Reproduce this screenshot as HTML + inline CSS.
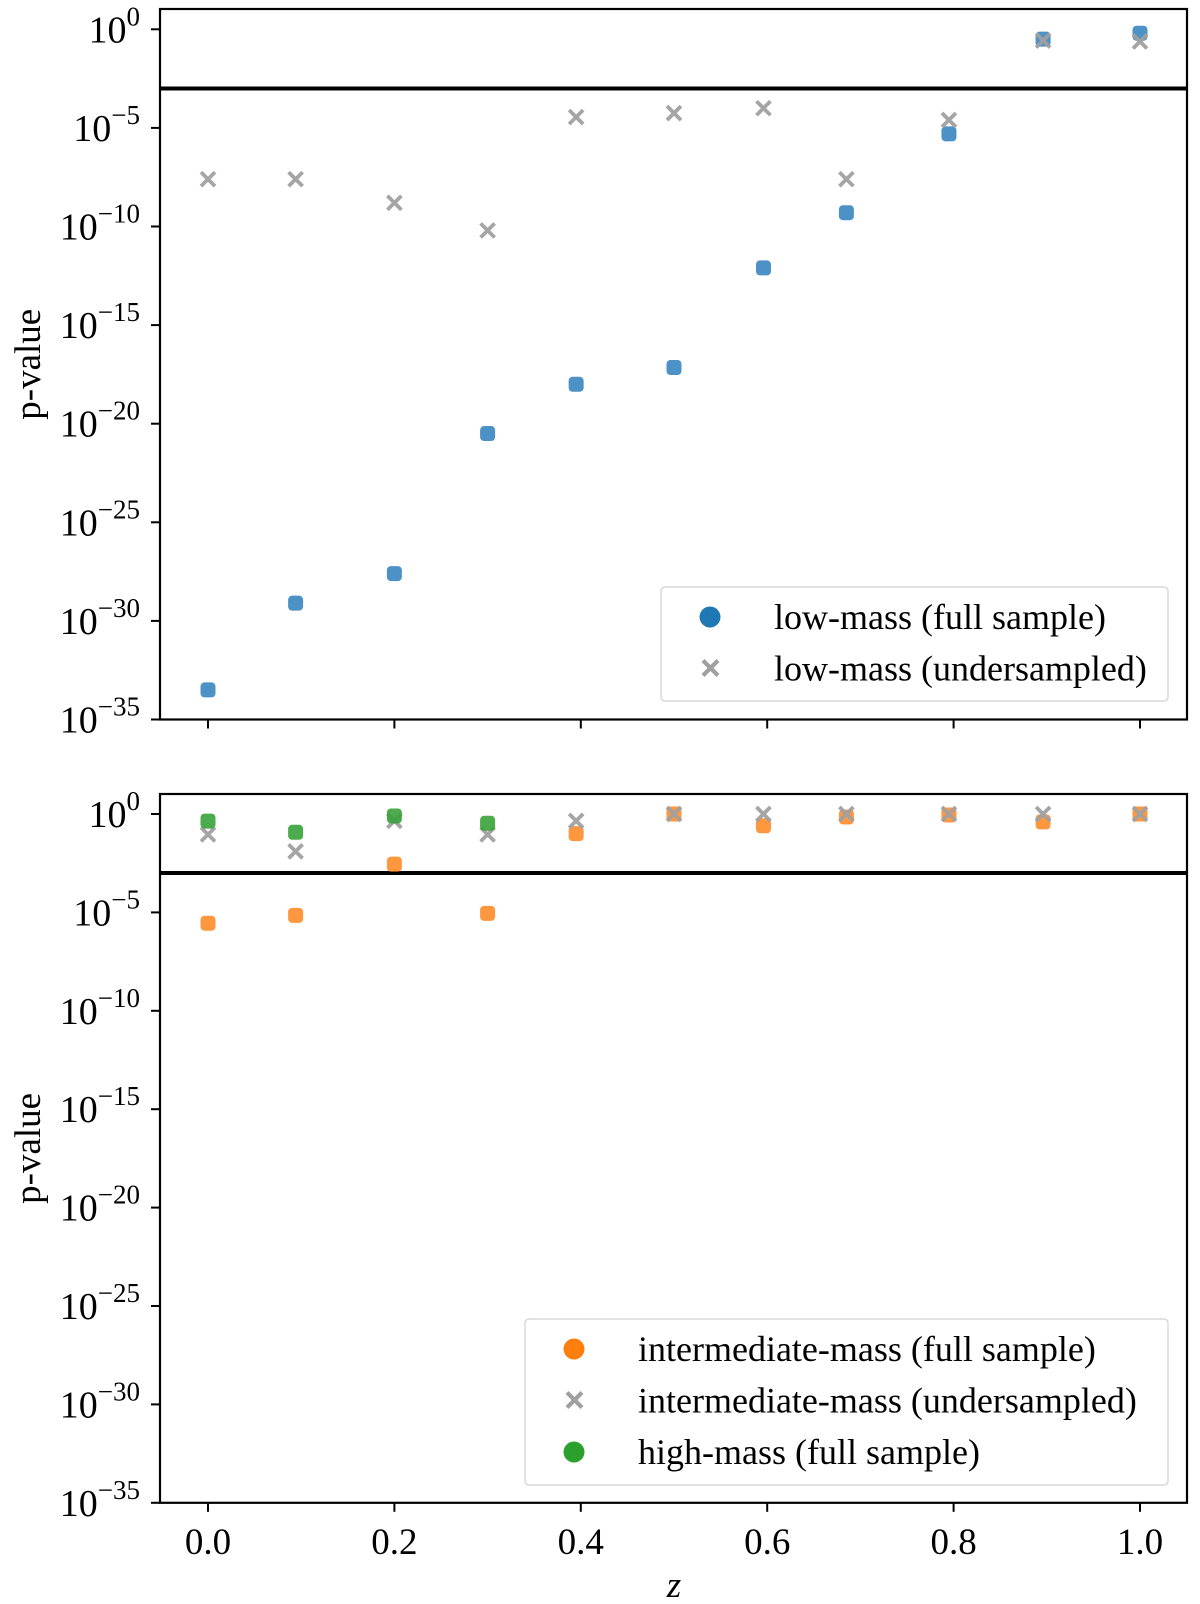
<!DOCTYPE html>
<html><head><meta charset="utf-8"><style>
html,body{margin:0;padding:0;background:#fff;}
svg{display:block;font-family:"Liberation Serif","DejaVu Serif",serif;}
</style></head><body>
<svg id="chart" width="1200" height="1604" viewBox="0 0 1200 1604" xmlns="http://www.w3.org/2000/svg"></svg>
<script>
// ---- data ----
const zValues = [0.0, 0.094, 0.2, 0.3, 0.395, 0.5, 0.596, 0.685, 0.795, 0.896, 1.0];
const lowFullLog = [-33.5, -29.1, -27.6, -20.5, -18.0, -17.15, -12.1, -9.3, -5.3, -0.5, -0.2];
const lowUnderLog = [-7.6, -7.6, -8.8, -10.2, -4.45, -4.25, -4.0, -7.6, -4.6, -0.57, -0.62];
const interFullLog = [-5.55, -5.15, -2.55, -5.05, -1.0, 0, -0.6, -0.15, -0.05, -0.4, 0];
const interUnderLog = [-1.04, -1.9, -0.35, -1.04, -0.35, 0, 0, 0, 0, 0, 0];
const highZ = [0.0, 0.094, 0.2, 0.3];
const highFullLog = [-0.36, -0.93, -0.1, -0.47];
const yTickExps = [0, -5, -10, -15, -20, -25, -30, -35];
const xTicks = [0.0, 0.2, 0.4, 0.6, 0.8, 1.0];
const xTickLabels = ["0.0", "0.2", "0.4", "0.6", "0.8", "1.0"];
const thresholdLog = -3;

const NS = "http://www.w3.org/2000/svg";
const svg = document.getElementById('chart');
function mk(tag, attrs, parent) {
  const e = document.createElementNS(NS, tag);
  for (const k in attrs) e.setAttribute(k, attrs[k]);
  (parent || svg).appendChild(e);
  return e;
}
const L = 160, R = 1187;
const xS = z => 208 + z * 932;
const panels = [
  {top: 9, zero: 29.3, dec: 19.72, name: 'top'},
  {top: 794, zero: 814, dec: 19.68, name: 'bottom'}
];
const colBlue = '#3a86c0', colOrange = '#ff8c2a', colGreen = '#38a33a', colGray = '#a0a0a0';

function square(g, x, y, c, name) {
  const r = mk('rect', {x: x - 7.5, y: y - 7.5, width: 15, height: 15, rx: 4, fill: c, 'fill-opacity': 0.9}, g);
  
  
}
function cross(g, x, y, name) {
  const p = mk('path', {d: `M${x-7},${y-7}L${x+7},${y+7}M${x-7},${y+7}L${x+7},${y-7}`, stroke: colGray, 'stroke-width': 3.8, fill: 'none', 'stroke-opacity': 0.95}, g);
  
  
}

panels.forEach((p, pi) => {
  const yS = v => p.zero - v * p.dec;
  const bottom = yS(-35);
  const g = mk('g', {});
  
  
  yTickExps.forEach(e => {
    const y = yS(e);
    mk('line', {x1: L - 9, x2: L, y1: y, y2: y, stroke: '#000', 'stroke-width': 2}, g);
    const t = mk('text', {x: 140, y: y + 13, 'text-anchor': 'end', 'font-size': 38}, g);
    
    
    const a = mk('tspan', {}, t); a.textContent = '10';
    const b = mk('tspan', {'font-size': 27, dy: -17}, t); b.textContent = (e === 0 ? '0' : '\u2212' + (-e));
  });
  xTicks.forEach((z, i) => {
    const x = xS(z);
    mk('line', {x1: x, x2: x, y1: bottom, y2: bottom + 9, stroke: '#000', 'stroke-width': 2}, g);
    if (pi === 1) {
      const t = mk('text', {x: x, y: 1554, 'text-anchor': 'middle', 'font-size': 37}, g);
      t.textContent = xTickLabels[i];
      
      
    }
  });
  const th = mk('line', {x1: L, x2: R, y1: yS(thresholdLog), y2: yS(thresholdLog), stroke: '#000', 'stroke-width': 4}, g);
  
  
  const yl = mk('text', {x: 0, y: 0, transform: `translate(40,${(p.top + bottom) / 2}) rotate(-90)`, 'text-anchor': 'middle', 'font-size': 37}, g);
  yl.textContent = 'p-value';
  
  

  if (pi === 0) {
    zValues.forEach((z, i) => square(g, xS(z), yS(lowFullLog[i]), colBlue, 'low-mass-full-point'));
    zValues.forEach((z, i) => cross(g, xS(z), yS(lowUnderLog[i]), 'low-mass-under-point'));
  } else {
    zValues.forEach((z, i) => square(g, xS(z), yS(interFullLog[i]), colOrange, 'inter-mass-full-point'));
    zValues.forEach((z, i) => cross(g, xS(z), yS(interUnderLog[i]), 'inter-mass-under-point'));
    highZ.forEach((z, i) => square(g, xS(z), yS(highFullLog[i]), colGreen, 'high-mass-full-point'));
  }
  mk('rect', {x: L, y: p.top, width: R - L, height: bottom - p.top, fill: 'none', stroke: '#000', 'stroke-width': 2.2}, g);
});

function legend(x, y, w, h, entries, name) {
  const g = mk('g', {});
  
  
  mk('rect', {x: x, y: y, width: w, height: h, rx: 4, fill: '#fff', 'fill-opacity': 0.8, stroke: '#d8d8d8', 'stroke-width': 1.5}, g);
  entries.forEach((en, i) => {
    const cy = y + 30 + i * 51.5;
    if (en.type === 'dot') mk('circle', {cx: x + 49, cy: cy, r: 10.5, fill: en.color}, g);
    else mk('path', {d: `M${x+42},${cy-8}L${x+57},${cy+7}M${x+42},${cy+7}L${x+57},${cy-8}`, stroke: colGray, 'stroke-width': 4.2}, g);
    const t = mk('text', {x: x + 113, y: cy + 12, 'font-size': 36}, g);
    t.textContent = en.label;
    
    
  });
}
legend(661, 587, 507, 114, [
  {type: 'dot', color: '#1f77b4', label: 'low-mass (full sample)'},
  {type: 'x', label: 'low-mass (undersampled)'}
], 'top-legend');
legend(525, 1319, 643, 166, [
  {type: 'dot', color: '#ff7f0e', label: 'intermediate-mass (full sample)'},
  {type: 'x', label: 'intermediate-mass (undersampled)'},
  {type: 'dot', color: '#2ca02c', label: 'high-mass (full sample)'}
], 'bottom-legend');

const xl = mk('text', {x: 674, y: 1597, 'text-anchor': 'middle', 'font-size': 37, 'font-style': 'italic'});
xl.textContent = 'z';


</script>
</body></html>
